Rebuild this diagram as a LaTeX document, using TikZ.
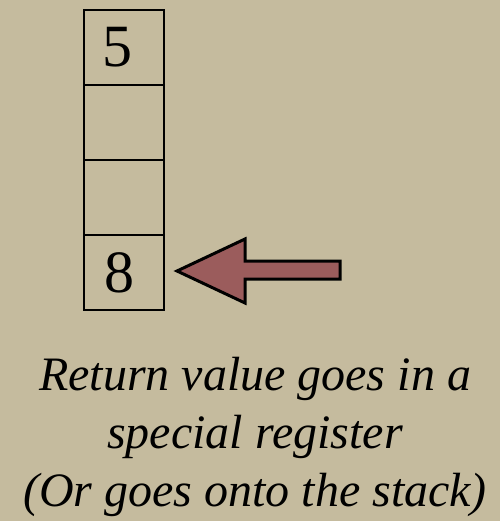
\documentclass[tikz,border=0pt]{standalone}
\usepackage{fontspec}
\setmainfont{Liberation Serif}
\begin{document}
\begin{tikzpicture}[x=1pt,y=-1pt,
  cell/.style={draw=black,line width=1.8pt,minimum width=80pt,minimum height=75pt,inner sep=0pt,anchor=north west},
  digit/.style={font=\fontsize{60}{60}\selectfont,inner sep=0pt},
  caption/.style={font=\itshape\fontsize{48}{58}\selectfont,align=center,inner sep=0pt}]
\fill[fill={rgb,255:red,197;green,187;blue,158}] (0,0) rectangle (500,521);
\useasboundingbox (0,0) rectangle (500,521);
\node[cell] (c1) at (83,9) {};
\node[cell] (c2) at (83,84) {};
\node[cell] (c3) at (83,159) {};
\node[cell] (c4) at (83,234) {};
\node[digit] (d1) at ([xshift=-6pt]c1.center) {5};
\node[digit] (d4) at ([xshift=-4pt]c4.center) {8};
\coordinate (tip) at (177,271);
\draw[line width=3pt,fill={rgb,255:red,155;green,92;blue,92},line join=miter]
  (tip) -- (245,239) -- (245,261) -- (340,261) -- (340,279) -- (245,279) -- (245,303) -- cycle;
\node[caption] (t) at (255,437) {Return value goes in a\\special register\\(Or goes onto the stack)};
\end{tikzpicture}
\end{document}
